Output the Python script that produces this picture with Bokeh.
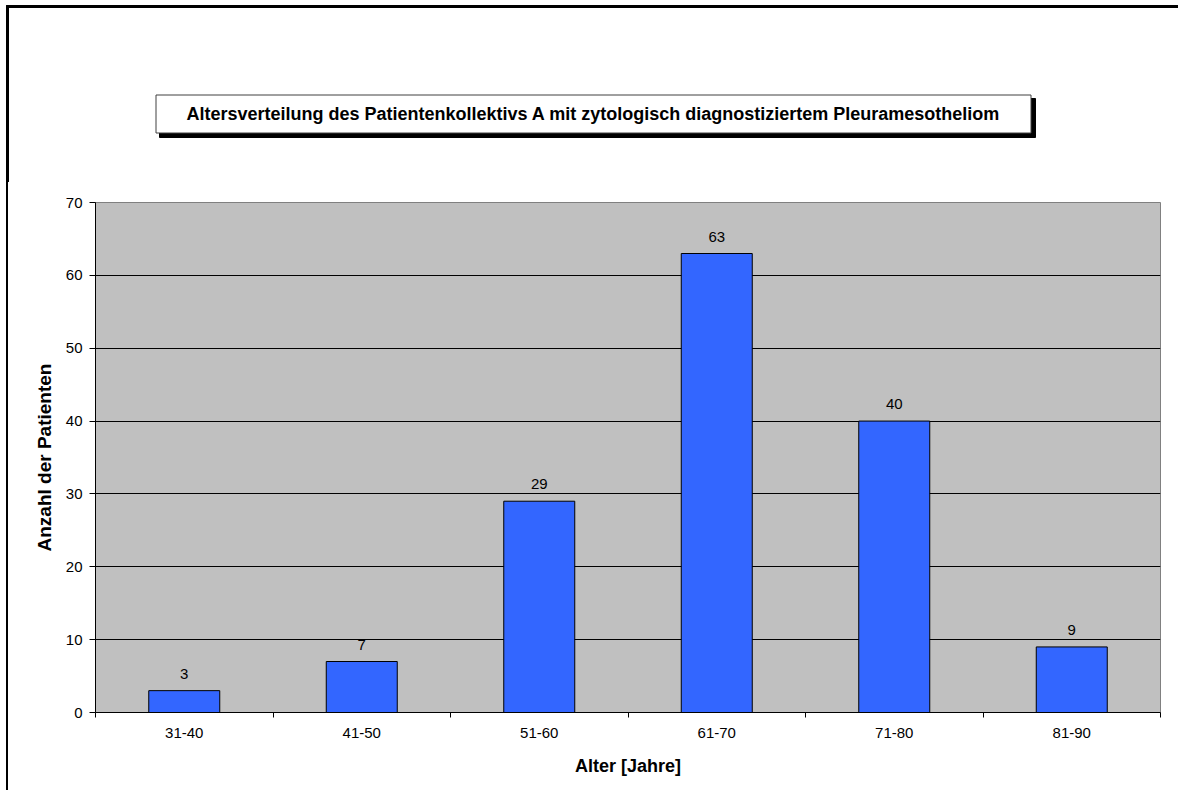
from bokeh.plotting import figure
from bokeh.layouts import column, row
from bokeh.models import ColumnDataSource, Range1d, FixedTicker, LabelSet, Spacer, Div
from bokeh.core.properties import value
from bokeh.embed import file_html
from bokeh.resources import INLINE

# Age groups and patient counts
age_groups = ["31-40", "41-50", "51-60", "61-70", "71-80", "81-90"]
patients = [3, 7, 29, 63, 40, 9]
y_ticks = [0, 10, 20, 30, 40, 50, 60, 70]

title_text = "Altersverteilung des Patientenkollektivs A mit zytologisch diagnostiziertem Pleuramesotheliom"
x_title = "Alter [Jahre]"
y_title = "Anzahl der Patienten"

FONT = "Liberation Sans"
PAGE_W = 1178
HEAD_H = 182
EDGE_X = 6          # left frame line starts here
EDGE_W = 2          # frame line thickness
CHART_W = PAGE_W - EDGE_X - EDGE_W
CHART_H = 790 - HEAD_H


# ---- heading: corner of the outer frame and boxed title with drop shadow ----
head = figure(width=PAGE_W, height=HEAD_H,
              x_range=Range1d(0, PAGE_W), y_range=Range1d(HEAD_H, 0),  # y grows downward
              output_backend="svg", toolbar_location=None,
              x_axis_location=None, y_axis_location=None,
              min_border=0, min_border_left=0, min_border_right=0,
              min_border_top=0, min_border_bottom=0)
head.grid.visible = False
head.outline_line_color = None
head.background_fill_color = "white"
head.border_fill_color = "white"

head.quad(left=[EDGE_X], right=[PAGE_W], top=[5], bottom=[7], color="black")
head.quad(left=[EDGE_X], right=[EDGE_X + EDGE_W], top=[5], bottom=[HEAD_H], color="black")
head.quad(left=[159], right=[1035], top=[98], bottom=[137], color="black")
head.quad(left=[155.5], right=[1030.5], top=[94.5], bottom=[132.5],
          fill_color="white", line_color="#404040", line_width=1)
head.text(x=[593], y=[113.5], text=[title_text], text_align="center",
          text_baseline="middle", text_font=value(FONT), text_font_size="18px",
          text_font_style="bold", text_color="black")

# ---- left edge of the outer frame beside the chart ----
edge = Div(text="", width=EDGE_W, height=CHART_H, margin=0,
           styles={"background-color": "black"})

# ---- the bar chart ----
centers = [i + 0.5 for i in range(len(age_groups))]
source = ColumnDataSource(data=dict(
    x=centers,
    count=patients,
    label=[str(v) for v in patients],
))

chart = figure(
    width=CHART_W, height=CHART_H,
    x_range=Range1d(0, len(age_groups)),
    y_range=Range1d(0, 70),
    output_backend="svg",
    toolbar_location=None,
    min_border_left=87, min_border_right=18,
    min_border_top=20, min_border_bottom=78,
)
chart.background_fill_color = "#C0C0C0"
chart.border_fill_color = "white"
chart.outline_line_color = "#808080"
chart.outline_line_width = 1

chart.vbar(x="x", top="count", width=0.4, source=source,
           fill_color="#3366FF", line_color="black", line_width=1)

chart.add_layout(LabelSet(x="x", y="count", text="label", source=source,
                          text_align="center", text_baseline="alphabetic",
                          y_offset=12, text_font=value(FONT), text_font_size="15px",
                          text_color="black"))

# Y axis
chart.yaxis.ticker = FixedTicker(ticks=y_ticks)
chart.yaxis.major_tick_out = 6
chart.yaxis.major_tick_in = 0
chart.yaxis.minor_tick_out = 0
chart.yaxis.minor_tick_in = 0
chart.yaxis.major_tick_line_color = "black"
chart.yaxis.major_label_standoff = 7
chart.yaxis.major_label_text_font = FONT
chart.yaxis.major_label_text_font_size = "15px"
chart.yaxis.major_label_text_color = "black"
chart.yaxis.axis_label = y_title
chart.yaxis.axis_label_text_font = FONT
chart.yaxis.axis_label_text_font_size = "19px"
chart.yaxis.axis_label_text_font_style = "bold"
chart.yaxis.axis_label_text_color = "black"
chart.yaxis.axis_label_standoff = 8
chart.yaxis.axis_line_color = "black"

# X axis: ticks between the age groups, labels centred under the bars
chart.xaxis.ticker = FixedTicker(ticks=centers,
                                 minor_ticks=list(range(len(age_groups) + 1)))
chart.xaxis.major_label_overrides = {c: g for c, g in zip(centers, age_groups)}
chart.xaxis.major_tick_out = 0
chart.xaxis.major_tick_in = 0
chart.xaxis.minor_tick_out = 5
chart.xaxis.minor_tick_in = 0
chart.xaxis.minor_tick_line_color = "black"
chart.xaxis.major_label_standoff = 10
chart.xaxis.major_label_text_font = FONT
chart.xaxis.major_label_text_font_size = "15px"
chart.xaxis.major_label_text_color = "black"
chart.xaxis.axis_label = x_title
chart.xaxis.axis_label_text_font = FONT
chart.xaxis.axis_label_text_font_size = "18px"
chart.xaxis.axis_label_text_font_style = "bold"
chart.xaxis.axis_label_text_color = "black"
chart.xaxis.axis_label_standoff = 15
chart.xaxis.axis_line_color = "black"

chart.xgrid.visible = False
chart.ygrid.ticker = FixedTicker(ticks=y_ticks[1:-1])
chart.ygrid.grid_line_color = "black"
chart.ygrid.grid_line_width = 1

p = column(head, row(Spacer(width=EDGE_X, height=CHART_H, margin=0), edge, chart, spacing=0),
           spacing=0)

open("out.html", "w").write(file_html(p, INLINE))
